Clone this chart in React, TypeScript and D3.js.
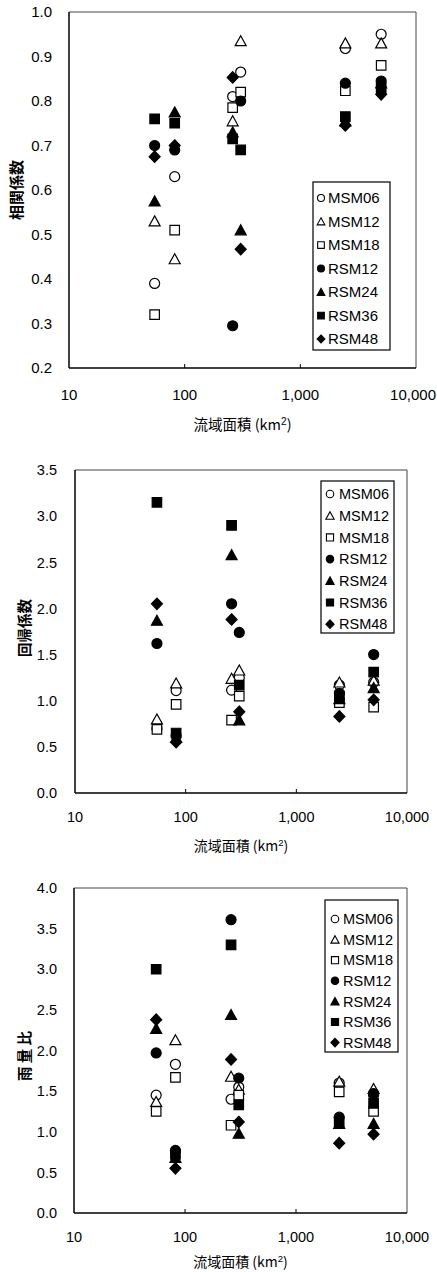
import React from 'react';
import * as d3 from 'd3';

// basin areas (km2) of the six stations
const areas = [55, 82, 260, 305, 2450, 5000];
const seriesNames = ['MSM06', 'MSM12', 'MSM18', 'RSM12', 'RSM24', 'RSM36', 'RSM48'];
const xTicks = [10, 100, 1000, 10000];

// 相関係数
const corrValues = [
  [0.39, 0.63, 0.81, 0.865, 0.918, 0.95],
  [0.53, 0.445, 0.755, 0.935, 0.93, 0.93],
  [0.32, 0.51, 0.785, 0.82, 0.823, 0.88],
  [0.70, 0.69, 0.295, 0.80, 0.84, 0.845],
  [0.575, 0.775, 0.73, 0.51, 0.755, 0.84],
  [0.76, 0.75, 0.715, 0.69, 0.765, 0.83],
  [0.675, 0.70, 0.853, 0.467, 0.745, 0.815],
];
const corrTicks = [0.2, 0.3, 0.4, 0.5, 0.6, 0.7, 0.8, 0.9, 1.0];

// 回帰係数
const regValues = [
  [0.70, 1.11, 1.115, 1.25, 1.17, 1.20],
  [0.80, 1.19, 1.24, 1.33, 1.20, 1.22],
  [0.69, 0.96, 0.79, 1.05, 0.98, 0.93],
  [1.62, 0.62, 2.05, 1.74, 1.08, 1.50],
  [1.87, 0.60, 2.58, 0.79, 1.02, 1.14],
  [3.15, 0.65, 2.90, 1.17, 1.05, 1.31],
  [2.05, 0.55, 1.88, 0.88, 0.83, 1.01],
];
const regTicks = [0, 0.5, 1.0, 1.5, 2.0, 2.5, 3.0, 3.5];

// 雨量比
const ratioValues = [
  [1.45, 1.83, 1.40, 1.55, 1.60, 1.45],
  [1.37, 2.13, 1.68, 1.52, 1.62, 1.53],
  [1.25, 1.67, 1.08, 1.45, 1.49, 1.25],
  [1.97, 0.77, 3.61, 1.66, 1.18, 1.47],
  [2.27, 0.68, 2.44, 0.98, 1.10, 1.10],
  [3.00, 0.72, 3.30, 1.33, 1.12, 1.35],
  [2.38, 0.55, 1.89, 1.12, 0.86, 0.97],
];
const ratioTicks = [0, 0.5, 1.0, 1.5, 2.0, 2.5, 3.0, 3.5, 4.0];

const markerKind = ['circle', 'triangle', 'square', 'circle', 'triangle', 'square', 'diamond'];
const markerFilled = [false, false, false, true, true, true, true];

const FONT = '"Liberation Sans", Arial, sans-serif';
const JFONT = '"Noto Sans CJK JP", "Noto Sans", sans-serif';
const PAGE_W = 437;

function markerPath(kind: string, s: number): string {
  const h = s / 2;
  const p = d3.path();
  if (kind === 'circle') {
    p.arc(0, 0, h, 0, Math.PI * 2);
  } else if (kind === 'square') {
    p.rect(-h * 0.95, -h * 0.95, s * 0.95, s * 0.95);
  } else if (kind === 'triangle') {
    p.moveTo(0, -h * 1.05);
    p.lineTo(h * 1.1, h * 0.95);
    p.lineTo(-h * 1.1, h * 0.95);
    p.closePath();
  } else {
    p.moveTo(0, -h * 1.15);
    p.lineTo(h * 1.1, 0);
    p.lineTo(0, h * 1.15);
    p.lineTo(-h * 1.1, 0);
    p.closePath();
  }
  return p.toString();
}

interface Layout {
  left: number; right: number; top: number; bottom: number;
  yLabelX: number; xLabelY: number; xTitleY: number; yTitleX: number; yTitleY: number;
  legend: { x: number; y: number; w: number; h: number; first: number; rowH: number; mx: number; tx: number; ms: number };
  fs: number;
}

const Panel = ({ values, yTicks, yTitle, layout }: { values: number[][]; yTicks: number[]; yTitle: string; layout: Layout }) => {
  const x = d3.scaleLog().domain([10, 10000]).range([layout.left, layout.right]);
  const y = d3.scaleLinear().domain([yTicks[0], yTicks[yTicks.length - 1]]).range([layout.bottom, layout.top]);
  const fmtY = d3.format('.1f');
  const fmtX = d3.format(',');
  const lg = layout.legend;
  return (
    <g>
      {/* frame */}
      <line x1={layout.left} x2={layout.right} y1={layout.top} y2={layout.top} stroke="#444" strokeWidth={1} />
      <line x1={layout.right} x2={layout.right} y1={layout.top} y2={layout.bottom} stroke="#444" strokeWidth={1} />
      <line x1={layout.left} x2={layout.left} y1={layout.top} y2={layout.bottom} stroke="#000" strokeWidth={1.5} />
      <line x1={layout.left} x2={layout.right} y1={layout.bottom} y2={layout.bottom} stroke="#000" strokeWidth={1.5} />
      {xTicks.slice(1, -1).map((t) => (
        <line key={t} x1={x(t)} x2={x(t)} y1={layout.bottom} y2={layout.bottom - 4} stroke="#000" strokeWidth={1} />
      ))}
      {yTicks.map((t) => (
        <text key={t} x={layout.yLabelX} y={y(t)} dy="0.36em" textAnchor="end" fontFamily={FONT} fontSize={layout.fs} fill="#000">
          {fmtY(t)}
        </text>
      ))}
      {xTicks.map((t) => {
        const label = fmtX(t);
        const half = label.length * layout.fs * 0.28 + 1;
        const atEdge = x(t) + half > PAGE_W - 1;
        return (
          <text
            key={t}
            x={atEdge ? PAGE_W - 1 : x(t)}
            y={layout.xLabelY}
            textAnchor={atEdge ? 'end' : 'middle'}
            fontFamily={FONT}
            fontSize={layout.fs}
            fill="#000"
          >
            {label}
          </text>
        );
      })}
      <text x={(layout.left + layout.right) / 2} y={layout.xTitleY} textAnchor="middle" fontFamily={JFONT} fontSize={layout.fs - 0.5} fill="#000">
        流域面積 (km<tspan dy={-5} fontSize={layout.fs - 5} fontFamily={FONT}>2</tspan><tspan dy={5}>)</tspan>
      </text>
      <text transform={`translate(${layout.yTitleX},${layout.yTitleY}) rotate(-90)`} textAnchor="middle" dy="0.36em" fontFamily={JFONT} fontSize={layout.fs} fontWeight="bold" fill="#000">
        {yTitle}
      </text>
      {/* points */}
      {values.map((vals, si) => (
        <g key={si}>
          {vals.map((v, i) => (
            <path
              key={i}
              d={markerPath(markerKind[si], 10)}
              transform={`translate(${x(areas[i])},${y(v)})`}
              fill={markerFilled[si] ? '#000' : '#fff'}
              stroke="#000"
              strokeWidth={1.2}
            />
          ))}
        </g>
      ))}
      {/* legend */}
      <rect x={lg.x} y={lg.y} width={lg.w} height={lg.h} fill="#fff" stroke="#000" strokeWidth={1.2} />
      {seriesNames.map((name, si) => {
        const ry = lg.y + lg.first + si * lg.rowH;
        return (
          <g key={name}>
            <path
              d={markerPath(markerKind[si], lg.ms)}
              transform={`translate(${lg.x + lg.mx},${ry})`}
              fill={markerFilled[si] ? '#000' : '#fff'}
              stroke="#000"
              strokeWidth={1.1}
            />
            <text x={lg.x + lg.tx} y={ry} dy="0.36em" fontFamily={FONT} fontSize={layout.fs} fill="#000">
              {name}
            </text>
          </g>
        );
      })}
    </g>
  );
};

const layout1: Layout = {
  left: 69, right: 416, top: 12, bottom: 368,
  yLabelX: 52, xLabelY: 400, xTitleY: 430, yTitleX: 17, yTitleY: 190,
  legend: { x: 313, y: 182, w: 77, h: 168, first: 16, rowH: 23.5, mx: 8, tx: 15, ms: 7 },
  fs: 15,
};
const layout2: Layout = {
  left: 75, right: 407, top: 470, bottom: 793,
  yLabelX: 57, xLabelY: 822, xTitleY: 851, yTitleX: 25, yTitleY: 628,
  legend: { x: 321, y: 481, w: 73, h: 152, first: 13, rowH: 21.7, mx: 9, tx: 18, ms: 7.5 },
  fs: 14.5,
};
const layout3: Layout = {
  left: 74, right: 407, top: 888, bottom: 1213,
  yLabelX: 57, xLabelY: 1242, xTitleY: 1267, yTitleX: 25, yTitleY: 1056,
  legend: { x: 325, y: 900, w: 73, h: 152, first: 19, rowH: 20.6, mx: 10, tx: 18, ms: 7.5 },
  fs: 14.5,
};

export default function App() {
  return (
    <svg width={437} height={1272} style={{ position: 'absolute', left: 0, top: 0, background: '#fff' }}>
      <rect width={437} height={1272} fill="#fff" />
      <Panel values={corrValues} yTicks={corrTicks} yTitle="相関係数" layout={layout1} />
      <Panel values={regValues} yTicks={regTicks} yTitle="回帰係数" layout={layout2} />
      <Panel values={ratioValues} yTicks={ratioTicks} yTitle="雨 量 比" layout={layout3} />
    </svg>
  );
}
